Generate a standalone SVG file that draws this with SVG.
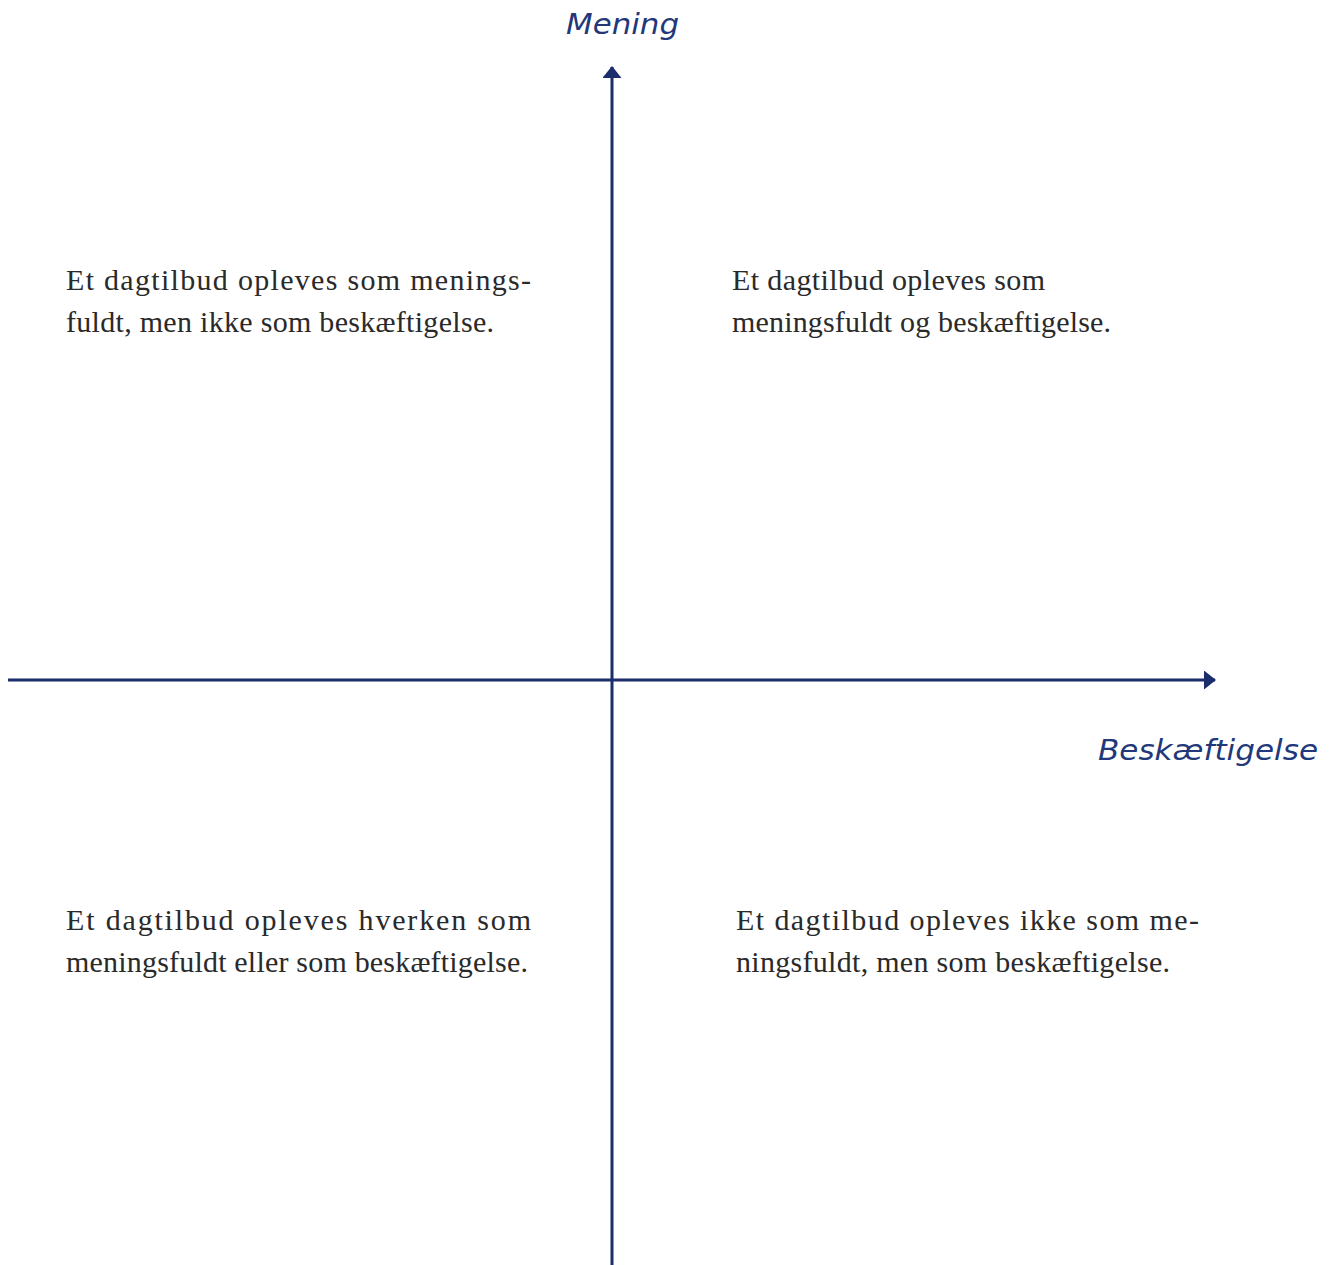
<svg xmlns="http://www.w3.org/2000/svg" width="1338" height="1265" viewBox="0 0 1338 1265">
  <style>
    .axis { stroke: #1b2d6b; stroke-width: 3; fill: none; }
    .body { font-family: "Liberation Serif", "Times New Roman", serif; font-size: 30px; fill: #2a2a2a; }
    .label { font-family: "DejaVu Sans", "Liberation Sans", sans-serif; font-style: italic; font-weight: 200; font-size: 29px; fill: #22387a; }
  </style>
  <defs>
    <marker id="arrow" viewBox="0 0 12 19" refX="11" refY="9.5" markerWidth="12" markerHeight="19" orient="auto" markerUnits="userSpaceOnUse">
      <path d="M0,0 L12,9.5 L0,19 Z" fill="#1b2d6b"/>
    </marker>
  </defs>
  <rect width="1338" height="1265" fill="#ffffff"/>

  <!-- axes -->
  <g id="connectors">
    <line class="axis" x1="612" y1="1265" x2="612" y2="67" marker-end="url(#arrow)"/>
    <line class="axis" x1="8" y1="680" x2="1215" y2="680" marker-end="url(#arrow)"/>
  </g>

  <!-- axis titles -->
  <g id="label-mening">
    <text class="label" x="566" y="34" textLength="113" lengthAdjust="spacingAndGlyphs">Mening</text>
  </g>
  <g id="label-beskaeftigelse">
    <text class="label" x="1098" y="760" textLength="220" lengthAdjust="spacingAndGlyphs">Beskæftigelse</text>
  </g>

  <!-- quadrant descriptions -->
  <g id="quadrant-top-left">
    <text class="body" x="66" y="290" textLength="465" lengthAdjust="spacing">Et dagtilbud opleves som menings-</text>
    <text class="body" x="66" y="332" textLength="428" lengthAdjust="spacing">fuldt, men ikke som beskæftigelse.</text>
  </g>
  <g id="quadrant-top-right">
    <text class="body" x="732" y="290" textLength="313" lengthAdjust="spacing">Et dagtilbud opleves som</text>
    <text class="body" x="732" y="332" textLength="379" lengthAdjust="spacing">meningsfuldt og beskæftigelse.</text>
  </g>
  <g id="quadrant-bottom-left">
    <text class="body" x="66" y="930" textLength="465" lengthAdjust="spacing">Et dagtilbud opleves hverken som</text>
    <text class="body" x="66" y="972" textLength="462" lengthAdjust="spacing">meningsfuldt eller som beskæftigelse.</text>
  </g>
  <g id="quadrant-bottom-right">
    <text class="body" x="736" y="930" textLength="463" lengthAdjust="spacing">Et dagtilbud opleves ikke som me-</text>
    <text class="body" x="736" y="972" textLength="434" lengthAdjust="spacing">ningsfuldt, men som beskæftigelse.</text>
  </g>
</svg>
